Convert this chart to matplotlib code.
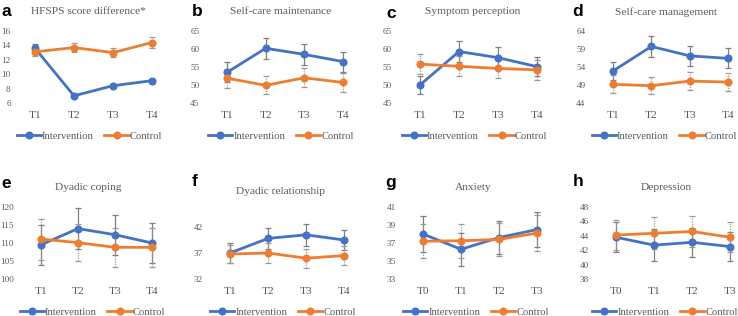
import matplotlib
matplotlib.use("Agg")
import matplotlib.pyplot as plt
from matplotlib.lines import Line2D

W, H = 738, 316

# ---------------- data ----------------
time_a = ["T1", "T2", "T3", "T4"]
time_g = ["T0", "T1", "T2", "T3"]

titles = ["HFSPS score difference*", "Self-care maintenance", "Symptom perception",
          "Self-care management", "Dyadic coping", "Dyadic relationship",
          "Anxiety", "Depression"]
letters = ["a", "b", "c", "d", "e", "f", "g", "h"]

a_int = [13.6, 7.0, 8.4, 9.1];      a_int_err = [0.6, 0.2, 0.3, 0.3]
a_con = [13.1, 13.7, 13.0, 14.4];   a_con_err = [0.6, 0.6, 0.6, 0.7]
b_int = [53.5, 60.2, 58.5, 56.5];   b_int_err = [2.8, 2.9, 3.0, 2.8]
b_con = [51.9, 49.9, 52.0, 50.7];   b_con_err = [2.6, 2.5, 2.6, 2.6]
c_int = [50.0, 59.3, 57.6, 55.1];   c_int_err = [2.5, 3.0, 3.0, 2.6]
c_con = [55.8, 55.2, 54.6, 54.2];   c_con_err = [2.8, 2.8, 2.7, 2.7]
d_int = [52.9, 59.7, 57.1, 56.4];   d_int_err = [2.6, 3.0, 2.8, 2.8]
d_con = [49.2, 48.8, 50.1, 49.8];   d_con_err = [2.5, 2.4, 2.6, 2.6]
e_int = [109.5, 114.0, 112.3, 110.0]; e_int_err = [5.5, 5.7, 5.6, 5.5]
e_con = [111.1, 110.1, 108.8, 108.8]; e_con_err = [5.7, 5.2, 5.5, 5.5]
f_int = [37.0, 39.8, 40.5, 39.5];   f_int_err = [1.9, 2.1, 2.1, 1.9]
f_con = [36.8, 37.0, 36.0, 36.5];   f_con_err = [1.7, 1.9, 1.8, 1.8]
g_int = [38.0, 36.3, 37.6, 38.5];   g_int_err = [2.0, 1.8, 1.8, 1.9]
g_con = [37.2, 37.25, 37.4, 38.1];  g_con_err = [1.9, 1.9, 1.8, 2.0]
h_int = [43.8, 42.7, 43.1, 42.5];   h_int_err = [2.1, 2.2, 2.0, 2.0]
h_con = [44.1, 44.35, 44.6, 43.8];  h_con_err = [2.1, 2.2, 2.2, 2.1]

y_ticks = [
    [6, 8, 10, 12, 14, 16],
    [45, 50, 55, 60, 65],
    [45, 50, 55, 60, 65],
    [44, 49, 54, 59, 64],
    [100, 105, 110, 115, 120],
    [32, 37, 42],
    [33, 35, 37, 39, 41],
    [38, 40, 42, 44, 46, 48],
]

series = [
    (a_int, a_int_err, a_con, a_con_err),
    (b_int, b_int_err, b_con, b_con_err),
    (c_int, c_int_err, c_con, c_con_err),
    (d_int, d_int_err, d_con, d_con_err),
    (e_int, e_int_err, e_con, e_con_err),
    (f_int, f_int_err, f_con, f_con_err),
    (g_int, g_int_err, g_con, g_con_err),
    (h_int, h_int_err, h_con, h_con_err),
]
xlabels = [time_a] * 6 + [time_g] * 2

# ---------------- layout (pixels) ----------------
# (first tick x, last tick x, top y, bottom y)
boxes = [
    (35, 152, 31, 103), (227, 343, 31, 103), (420, 537, 31, 103), (613, 728, 31, 103),
    (41, 152, 207, 279), (230, 344, 227, 279), (423, 537, 207, 279), (616, 730, 207, 279),
]
letter_pos = [(6, 12), (197, 11), (391, 13), (578, 12),
              (6, 183), (195, 182), (391, 183), (578, 182)]
title_pos = [(88, 12), (281, 12), (473, 12), (666, 12),
             (88, 187), (280, 192), (473, 187), (666, 187)]
legend_y = [136, 136, 136, 136, 312, 312, 312, 312]
legend_dx = [-4, -4, -4, -6, -4, -4, -4, -8]
ypads = [3.5, 6, 6, 6, 6, 6, 6, 6]

BLUE = "#4472C4"
ORANGE = "#ED7D31"
TXT = "#595959"
SERIF = "Liberation Serif"

fig = plt.figure(figsize=(W / 100, H / 100), dpi=100)

for i in range(8):
    x1, x4, yt, yb = boxes[i]
    sp = (x4 - x1) / 3
    left = x1 - sp / 2
    width = sp * 4
    ax = fig.add_axes([left / W, 1 - yb / H, width / W, (yb - yt) / H])
    xi, ei, xc, ec = series[i]
    xs = list(range(4))
    eb1 = ax.errorbar(xs, xi, yerr=ei, fmt="none", ecolor="#7f7f7f", elinewidth=0.9,
                      capsize=2.2, capthick=0.9, zorder=1)
    eb2 = ax.errorbar(xs, xc, yerr=ec, fmt="none", ecolor="#9a9a9a", elinewidth=0.9,
                      capsize=2.2, capthick=0.9, zorder=1)
    for c in eb2[2]:
        c.set_linestyle((0, (1, 1)))
    for art in list(eb1[1]) + list(eb1[2]) + list(eb2[1]) + list(eb2[2]):
        art.set_clip_on(False)
    ax.plot(xs, xi, color=BLUE, lw=2.0, marker="o", ms=4.8, zorder=3, clip_on=False)
    ax.plot(xs, xc, color=ORANGE, lw=2.0, marker="o", ms=4.8, zorder=4, clip_on=False)
    ax.set_xlim(-0.5, 3.5)
    yt_ = y_ticks[i]
    ax.set_ylim(yt_[0], yt_[-1])
    ax.set_yticks(yt_)
    ax.set_yticklabels([str(v) for v in yt_], fontsize=6.6, family=SERIF, color=TXT)
    ax.set_xticks(xs)
    ax.set_xticklabels(xlabels[i], fontsize=8.2, family=SERIF, color=TXT)
    ax.tick_params(axis="y", length=0, pad=ypads[i])
    ax.tick_params(axis="x", length=0, pad=6)
    for s in ax.spines.values():
        s.set_visible(False)
    ax.patch.set_alpha(0)

    # titles and letters
    tx, ty = title_pos[i]
    fig.text(tx / W, 1 - ty / H, titles[i], ha="center", va="center",
             fontsize=8.2, family=SERIF, color=TXT)
    lx, ly = letter_pos[i]
    fig.text(lx / W, 1 - ly / H, letters[i], ha="center", va="center",
             fontsize=12.5, family="Liberation Sans", fontweight="bold", color="black")

    handles = [Line2D([], [], color=BLUE, lw=2.0, marker="o", ms=4.8),
               Line2D([], [], color=ORANGE, lw=2.0, marker="o", ms=4.8)]
    cx = (left + width / 2 + legend_dx[i]) / W
    leg = fig.legend(handles, ["Intervention", "Control"], loc="center",
                     bbox_to_anchor=(cx, 1 - legend_y[i] / H), ncol=2, frameon=False,
                     prop={"family": SERIF, "size": 7.6}, handlelength=2.3,
                     handletextpad=0.1, columnspacing=1.0, borderpad=0)
    for t in leg.get_texts():
        t.set_color(TXT)

fig.savefig("out.png", dpi=100)
